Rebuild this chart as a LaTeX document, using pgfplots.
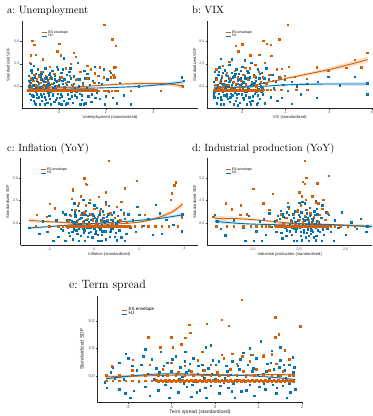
\documentclass[border=0pt]{standalone}
\usepackage{pgfplots}
\pgfplotsset{compat=1.18}
\usepackage{fontspec}
\newfontfamily\lsans{Liberation Sans}
\definecolor{esor}{RGB}{213,94,0}
\definecolor{hjbl}{RGB}{0,114,178}
\definecolor{tickgray}{RGB}{77,77,77}
\pgfplotsset{
  panel/.style={
    scale only axis,
    axis x line*=bottom, axis y line*=left,
    axis line style={line width=0.9pt, black!85},
    tick align=outside,
    major tick length=1.5pt,
    every tick/.style={black!75, line width=0.4pt},
    ytick={0,2.5,5}, yticklabels={0.0,2.5,5.0},
    ymin=-2.45, ymax=7.25,
    ticklabel style={font=\lsans\fontsize{3.6}{4}\selectfont, text=tickgray, inner sep=0.8pt},
    label style={font=\lsans\fontsize{4.1}{5}\selectfont, text=black!85},
    ylabel={Standardized SDF},
    legend style={draw=none, fill=none, anchor=north west, font=\lsans\fontsize{3.5}{4}\selectfont, row sep=-2.2pt, inner sep=0pt, nodes={inner sep=0.8pt}},
    legend image code/.code={\draw[#1, line width=0.9pt] (0pt,0pt) -- (5pt,0pt);},
    legend cell align=left,
  },
  bpts/.style={only marks, mark=square*, mark size=0.68pt, color=hjbl, mark options={draw=none, fill=hjbl, fill opacity=0.9}, forget plot},
  opts/.style={only marks, mark=square*, mark size=0.68pt, color=esor, mark options={draw=none, fill=esor, fill opacity=0.9}, forget plot},
  oline/.style={esor, line width=0.9pt, smooth, no marks, forget plot},
  bline/.style={hjbl, line width=0.9pt, smooth, no marks, forget plot},
  oband/.style={fill=esor!55!white, fill opacity=0.35, draw=none, no marks, forget plot},
  bband/.style={fill=hjbl!55!white, fill opacity=0.3, draw=none, no marks, forget plot},
}
\begin{document}
\begin{tikzpicture}
\useasboundingbox (0,0) rectangle (373pt,416pt);
% titles
\node[anchor=base west, inner sep=0pt, font=\fontsize{10.5}{12}\selectfont] at (7pt,402pt) {a:\ Unemployment};
\node[anchor=base west, inner sep=0pt, font=\fontsize{10.5}{12}\selectfont] at (192pt,402pt) {b:\ VIX};
\node[anchor=base west, inner sep=0pt, font=\fontsize{10.5}{12}\selectfont] at (7pt,264.3pt) {c:\ Inflation (YoY)};
\node[anchor=base west, inner sep=0pt, font=\fontsize{10.5}{12}\selectfont] at (192pt,264.3pt) {d:\ Industrial production (YoY)};
\node[anchor=base west, inner sep=0pt, font=\fontsize{12}{14}\selectfont] at (69pt,128pt) {e:\ Term spread};

% ---------------- a ----------------
\begin{axis}[panel, at={(22pt,307.7pt)}, anchor=south west, width=176pt, height=87.3pt,
  xmin=-1.57, xmax=5.92, xtick={0,2,4}, xticklabels={0,2,4},
  xlabel={Unemployment (standardized)},
  xlabel style={at={(axis description cs:0.5,-0.1)}, anchor=center},
  ylabel style={at={(axis description cs:-0.078,0.5)}, anchor=center},
  legend style={at={(0.11,0.9)}}]
\addlegendimage{esor, line width=0.9pt}\addlegendentry{ES envelope}
\addlegendimage{hjbl, line width=0.9pt}\addlegendentry{HJ}
\addplot[bpts] coordinates {(-1.28,1.2)(-1.25,-0.8)(-1.22,0.4)(-1.2,-1.5)(-1.18,1.8)(-1.15,-0.2)(-1.12,0.9)(-1.1,-1.1)(-1.08,2.3)(-1.05,0.1)(-1.03,-1.9)(-1.0,1.4)(-0.98,-0.6)(-0.95,0.6)(-0.93,-1.3)(-0.9,1.9)(-0.88,-0.3)(-0.85,0.3)(-0.83,-2.0)(-0.8,1.1)(-0.78,-0.9)(-0.75,0.8)(-0.72,-1.6)(-0.7,0.0)(-0.68,1.6)(-0.65,-0.5)(-0.62,0.5)(-0.6,-1.2)(-0.58,2.0)(-0.55,-0.1)(-0.52,1.0)(-0.5,-1.8)(-0.48,0.7)(-0.45,-0.7)(-0.42,1.3)(-0.4,-1.4)(-0.38,0.2)(-0.35,-2.0)(-0.32,0.9)(-0.3,-0.4)(-0.28,1.7)(-0.25,-1.0)(-0.22,0.4)(-0.2,-1.7)(-0.18,1.2)(-0.15,-0.2)(-0.12,0.6)(-0.1,-1.3)(-0.08,2.2)(-0.05,-0.8)(-0.02,0.1)(0.0,-1.9)(0.03,1.0)(0.06,-0.5)(0.1,1.5)(0.13,-1.1)(0.16,0.3)(0.2,-1.6)(0.23,0.8)(0.26,-0.3)(0.3,-2.0)(0.33,1.3)(0.37,-0.9)(0.4,0.5)(0.44,-1.4)(0.48,2.0)(0.52,-0.6)(0.56,0.2)(0.6,-1.8)(0.64,1.1)(0.68,-0.2)(0.72,0.7)(0.76,-1.2)(0.8,2.6)(0.84,0.0)(0.88,-0.8)(0.92,1.6)(0.96,-1.5)(1.0,0.4)(1.05,-2.0)(1.1,0.9)(1.15,-0.4)(1.2,1.4)(1.25,-1.1)(1.3,0.2)(1.38,-1.7)(1.45,0.6)(1.52,2.2)(1.6,-0.7)(1.68,1.2)(1.75,-1.4)(1.82,0.3)(1.9,1.9)(1.96,-2.0)(2.05,0.8)(2.12,-0.6)(2.2,1.5)(2.3,-1.3)(2.38,2.1)(2.45,-1.9)(2.6,0.4)(2.75,-1.0)(3.05,-2.0)(3.4,0.0)(5.22,1.0)(5.3,0.6)
(-1.27,0.0)(-1.24,-0.4)(-1.19,0.7)(-1.14,-1.0)(-1.09,0.2)(-1.04,1.0)(-0.99,-0.3)(-0.94,-0.9)(-0.89,0.5)(-0.84,1.3)(-0.79,-0.1)(-0.74,-1.1)(-0.69,0.6)(-0.64,-0.8)(-0.59,0.9)(-0.54,-0.3)(-0.49,0.1)(-0.44,-1.0)(-0.39,1.5)(-0.34,-0.6)(-0.29,0.3)(-0.24,-0.2)(-0.19,0.8)(-0.14,-1.5)(-0.09,0.5)(-0.04,-0.4)(0.01,0.7)(0.08,-0.9)(0.15,1.9)(0.22,-0.1)(0.35,-1.9)(0.5,0.9)(0.66,-1.0)(1.12,-1.9)(0.9,-2.0)(-0.6,-2.0)(-1.0,-2.0)(0.1,-2.0)(0.2,3.1)(-1.2,2.5)
(-1.26,0.6)(-1.16,1.5)(-1.06,-1.6)(-0.96,0.0)(-0.86,-1.2)(-0.76,1.4)(-0.66,0.2)(-0.56,-1.5)(-0.46,0.4)(-0.36,1.0)(-0.26,-0.9)(-0.16,0.0)(-0.06,1.9)(0.04,-1.3)(0.14,0.6)(0.24,-0.5)(0.34,0.2)(0.44,1.6)(0.54,-1.1)(0.64,0.3)(0.74,-0.6)(0.86,0.8)(0.98,-1.0)(1.08,1.7)(1.18,-0.2)(1.28,0.9)(1.4,-0.9)(1.55,-1.3)(1.7,0.4)(2.0,-1.1)};
\addplot[opts] coordinates {(-1.30,-0.45)(-1.25,-0.51)(-1.20,-0.45)(-1.15,-0.51)(-1.10,-0.45)(-1.05,-0.51)(-1.00,-0.45)(-0.95,-0.51)(-0.90,-0.45)(-0.85,-0.51)(-0.80,-0.45)(-0.75,-0.51)(-0.70,-0.45)(-0.65,-0.51)(-0.60,-0.45)(-0.55,-0.51)(-0.50,-0.45)(-0.45,-0.51)(-0.40,-0.45)(-0.35,-0.51)(-0.30,-0.45)(-0.25,-0.51)(-0.20,-0.45)(-0.15,-0.51)(-0.10,-0.45)(-0.05,-0.51)(0.00,-0.45)(0.05,-0.51)(0.10,-0.45)(0.15,-0.51)(0.20,-0.45)(0.25,-0.51)(0.30,-0.45)(0.35,-0.51)(0.40,-0.45)(0.45,-0.51)(0.50,-0.45)(0.55,-0.51)(0.60,-0.45)(0.65,-0.51)(0.70,-0.45)(0.75,-0.51)(0.80,-0.45)(0.85,-0.51)(0.90,-0.45)(0.95,-0.51)(1.00,-0.45)(1.05,-0.51)(1.10,-0.45)(1.15,-0.51)(1.20,-0.45)(1.25,-0.51)(1.30,-0.45)(1.35,-0.51)(1.40,-0.45)(1.45,-0.51)(1.50,-0.45)(1.55,-0.51)(1.60,-0.45)
(1.7,-0.48)(1.9,-0.48)(2.0,-0.48)(2.1,-0.48)(2.25,-0.48)(2.4,-0.48)(2.5,-0.48)(3.05,-0.48)(4.33,-0.48)
(-1.25,0.3)(-1.2,0.9)(-1.15,-0.1)(-1.1,0.6)(-1.05,1.3)(-1.0,0.1)(-0.95,0.8)(-0.9,-0.2)(-0.85,1.1)(-0.8,0.4)(-0.75,1.6)(-0.7,-0.1)(-0.65,0.7)(-0.6,0.2)(-0.55,1.2)(-0.5,0.5)(-0.45,-0.2)(-0.4,0.9)(-0.3,0.3)(-0.2,1.4)(-0.1,0.0)(0.0,0.6)(0.1,1.0)(0.2,-0.1)(0.3,0.4)(0.45,1.2)(0.6,0.1)(0.75,0.8)(0.9,1.6)(1.0,0.2)(1.2,0.9)(1.35,1.9)(1.5,0.4)(1.65,1.2)
(1.93,6.87)(-1.13,5.04)(-1.05,4.63)(0.01,4.74)(2.43,4.48)(2.27,5.23)(-1.2,3.44)(-0.99,3.51)(-0.07,3.89)(0.64,3.7)(0.08,3.44)(0.71,3.25)(-0.7,2.99)(-1.23,2.61)(1.74,2.13)(2.35,2.1)(2.4,2.15)(1.52,1.46)(2.17,1.76)(2.31,1.3)(1.91,1.0)(2.2,1.0)(2.36,1.0)(1.2,2.3)(0.5,2.5)(-0.4,2.2)(0.3,2.0)(5.22,0.08)(5.26,0.0)};
\addplot[oband] coordinates {(-1.3,0.25)(-0.5,0.01)(0.5,-0.04)(1.5,0.13)(2.5,0.35)(3.5,0.47)(4.5,0.48)(5.0,0.38)(5.3,0.28)(5.3,-0.28)(5.0,-0.08)(4.5,0.08)(3.5,0.13)(2.5,0.09)(1.5,-0.03)(0.5,-0.16)(-0.5,-0.11)(-1.3,-0.05)} --cycle;
\addplot[bband] coordinates {(-1.3,-0.18)(-0.5,-0.15)(0.5,-0.15)(1.5,-0.13)(2.5,-0.02)(3.5,0.13)(4.5,0.39)(5.3,0.72)(5.3,0.28)(4.5,0.05)(3.5,-0.13)(2.5,-0.22)(1.5,-0.27)(0.5,-0.25)(-0.5,-0.25)(-1.3,-0.42)} --cycle;
\addplot[oline] coordinates {(-1.3,0.1)(-0.5,-0.05)(0.5,-0.1)(1.5,0.05)(2.5,0.22)(3.5,0.3)(4.5,0.28)(5.0,0.15)(5.3,0.0)};
\addplot[bline] coordinates {(-1.3,-0.3)(-0.5,-0.2)(0.5,-0.2)(1.5,-0.2)(2.5,-0.12)(3.5,0.0)(4.5,0.22)(5.3,0.5)};
\end{axis}

% ---------------- b ----------------
\begin{axis}[panel, at={(207pt,307.7pt)}, anchor=south west, width=165.5pt, height=87.3pt,
  xmin=-1.63, xmax=6.02, xtick={0,2,4,6}, xticklabels={0,2,4,6},
  xlabel={VIX (standardized)},
  xlabel style={at={(axis description cs:0.5,-0.103)}, anchor=center},
  ylabel style={at={(axis description cs:-0.075,0.5)}, anchor=center},
  legend style={at={(0.11,0.9)}}]
\addlegendimage{esor, line width=0.9pt}\addlegendentry{ES envelope}
\addlegendimage{hjbl, line width=0.9pt}\addlegendentry{HJ}
\addplot[bpts] coordinates {(-1.32,0.5)(-1.3,-1.2)(-1.27,1.6)(-1.24,-0.3)(-1.21,0.9)(-1.18,-1.9)(-1.15,0.1)(-1.12,1.3)(-1.09,-0.8)(-1.06,2.1)(-1.03,-0.1)(-1.0,0.7)(-0.97,-1.5)(-0.94,1.0)(-0.91,-0.6)(-0.88,0.3)(-0.85,-2.0)(-0.82,1.8)(-0.79,-0.2)(-0.76,0.6)(-0.73,-1.1)(-0.7,1.2)(-0.67,-0.5)(-0.64,0.0)(-0.61,2.4)(-0.58,-1.7)(-0.55,0.8)(-0.52,-0.3)(-0.49,1.5)(-0.46,-1.0)(-0.43,0.4)(-0.4,-2.0)(-0.37,1.1)(-0.34,-0.7)(-0.31,0.2)(-0.28,1.9)(-0.25,-1.3)(-0.22,0.6)(-0.19,-0.4)(-0.16,1.4)(-0.13,-1.8)(-0.1,0.1)(-0.07,0.9)(-0.04,-0.9)(-0.01,2.2)(0.02,-0.2)(0.05,0.5)(0.08,-1.5)(0.11,1.2)(0.14,-0.6)(0.17,0.3)(0.2,-2.0)(0.23,1.7)(0.26,-0.1)(0.29,0.7)(0.32,-1.2)(0.35,1.0)(0.38,-0.5)(0.42,2.6)(0.46,-1.6)(0.5,0.2)(0.54,1.3)(0.58,-0.8)(0.62,0.6)(0.66,-2.0)(0.7,1.9)(0.74,-0.3)(0.78,0.9)(0.82,-1.4)(0.86,0.0)(0.9,1.5)(0.95,-0.9)(1.0,0.4)(1.05,-1.9)(1.1,2.0)(1.16,-0.4)(1.22,0.8)(1.3,-1.2)(1.38,1.3)(1.46,-0.2)(1.55,0.5)(1.62,-1.6)(1.7,1.0)(1.82,-1.3)(1.9,0.2)(1.97,0.7)(2.1,-0.5)(2.28,0.52)(2.28,-1.97)(2.51,0.0)(2.7,-0.9)(3.0,0.3)(3.43,-1.3)(3.5,0.52)(3.97,1.08)(4.5,0.1)(5.19,1.08)(5.78,0.34)(5.78,-0.9)
(-1.29,-0.6)(-1.2,0.2)(-1.13,-1.3)(-1.05,0.4)(-0.98,-0.4)(-0.9,1.5)(-0.83,-1.0)(-0.75,0.1)(-0.68,-1.4)(-0.6,0.5)(-0.53,-0.8)(-0.45,1.0)(-0.38,-0.2)(-0.3,-1.6)(-0.23,0.3)(-0.15,-0.8)(-0.08,1.7)(0.0,-0.5)(0.07,0.4)(0.15,-1.0)(0.22,0.9)(0.3,-0.3)(0.4,0.1)(0.48,-1.1)(0.56,0.4)(0.64,-0.6)(0.72,-1.8)(0.8,0.3)(0.88,-0.6)(-0.5,3.0)(0.1,2.9)(-1.0,-2.0)(0.4,-2.0)(-0.2,-2.1)(-0.99,3.07)
(-1.31,-0.9)(-1.23,0.7)(-1.16,-0.2)(-1.08,1.6)(-1.01,-1.2)(-0.93,0.3)(-0.86,-0.4)(-0.78,1.3)(-0.71,-0.8)(-0.63,0.9)(-0.56,-1.2)(-0.48,0.2)(-0.41,-0.5)(-0.33,1.4)(-0.26,-0.9)(-0.18,0.8)(-0.11,-0.3)(-0.03,0.3)(0.04,-1.3)(0.12,0.9)(0.19,-0.6)(0.27,1.5)(0.34,-1.7)(0.43,0.5)(0.52,-0.4)(0.61,1.0)(0.7,-1.0)(0.8,1.4)(0.92,-0.2)(1.02,0.9)};
\addplot[opts] coordinates {(-1.30,-0.37)(-1.25,-0.43)(-1.20,-0.37)(-1.15,-0.43)(-1.10,-0.37)(-1.05,-0.43)(-1.00,-0.37)(-0.95,-0.43)(-0.90,-0.37)(-0.85,-0.43)(-0.80,-0.37)(-0.75,-0.43)(-0.70,-0.37)(-0.65,-0.43)(-0.60,-0.37)(-0.55,-0.43)(-0.50,-0.37)(-0.45,-0.43)(-0.40,-0.37)(-0.35,-0.43)(-0.30,-0.37)(-0.25,-0.43)(-0.20,-0.37)(-0.15,-0.43)(-0.10,-0.37)(-0.05,-0.43)(0.00,-0.37)(0.05,-0.43)(0.10,-0.37)(0.15,-0.43)(0.20,-0.37)(0.25,-0.43)(0.30,-0.37)(0.35,-0.43)(0.40,-0.37)(0.45,-0.43)(0.50,-0.37)(0.55,-0.43)(0.60,-0.37)(0.65,-0.43)(0.70,-0.37)(0.75,-0.43)(0.80,-0.37)(0.85,-0.43)(0.90,-0.37)(0.95,-0.43)
(1.0,-0.4)(1.15,-0.4)(1.3,-0.4)(1.5,-0.4)(1.8,-0.4)(2.5,-0.4)(3.0,-0.4)
(-1.25,0.2)(-1.18,0.8)(-1.1,-0.1)(-1.02,0.5)(-0.95,1.2)(-0.88,0.0)(-0.8,0.6)(-0.72,1.5)(-0.65,0.2)(-0.58,0.9)(-0.5,-0.1)(-0.42,0.5)(-0.35,1.7)(-0.28,0.3)(-0.2,1.0)(-0.12,-0.1)(-0.05,0.6)(0.05,1.3)(0.15,0.2)(0.25,0.8)(0.35,2.0)(0.45,0.4)(0.55,1.1)(0.65,0.0)(0.75,1.6)(0.85,0.5)(0.95,1.0)(1.1,0.3)(1.25,1.3)(1.4,0.6)(1.6,1.9)(1.75,0.9)
(2.09,6.87)(-0.31,4.48)(0.0,4.66)(0.97,5.04)(1.12,4.74)(1.32,4.63)(1.7,5.23)(-0.18,3.88)(0.36,3.44)(0.78,3.52)(1.33,3.37)(5.78,3.72)(5.19,2.94)(1.05,2.64)(1.82,1.97)(2.16,2.19)(0.13,2.08)(3.43,2.1)(3.97,1.71)(4.8,2.08)(5.5,2.1)(1.97,1.19)(2.43,1.08)(2.97,0.82)(-0.9,2.3)(-0.6,2.7)(0.6,2.4)(-1.2,1.9)};
\addplot[oband] coordinates {(-1.3,-0.15)(-0.5,-0.1)(0,0.0)(0.5,0.16)(1,0.43)(2,0.97)(3,1.53)(4,2.09)(5,2.75)(5.8,3.31)(5.8,2.61)(5,2.15)(4,1.61)(3,1.17)(2,0.73)(1,0.27)(0.5,0.04)(0,-0.1)(-0.5,-0.2)(-1.3,-0.35)} --cycle;
\addplot[bband] coordinates {(-1.3,0.0)(0,-0.05)(1,0.06)(2,0.25)(3,0.37)(4,0.43)(5,0.45)(5.8,0.48)(5.8,0.02)(5,0.05)(4,0.07)(3,0.07)(2,0.05)(1,-0.06)(0,-0.15)(-1.3,-0.2)} --cycle;
\addplot[oline] coordinates {(-1.3,-0.25)(-0.5,-0.15)(0,-0.05)(0.5,0.1)(1,0.35)(2,0.85)(3,1.35)(4,1.85)(5,2.45)(5.8,2.96)};
\addplot[bline] coordinates {(-1.3,-0.1)(0,-0.1)(1,0.0)(2,0.15)(3,0.22)(4,0.25)(5,0.25)(5.8,0.25)};
\end{axis}

% ---------------- c ----------------
\begin{axis}[panel, at={(20.7pt,171pt)}, anchor=south west, width=177.3pt, height=87pt,
  xmin=-3.27, xmax=4.61, xtick={-2,0,2,4}, xticklabels={-2,0,2,4},
  xlabel={Inflation (standardized)},
  xlabel style={at={(axis description cs:0.5,-0.107)}, anchor=center},
  ylabel style={at={(axis description cs:-0.073,0.5)}, anchor=center},
  legend style={at={(0.11,0.9)}}]
\addlegendimage{esor, line width=0.9pt}\addlegendentry{ES envelope}
\addlegendimage{hjbl, line width=0.9pt}\addlegendentry{HJ}
\addplot[bpts] coordinates {(-1.2,0.3)(-1.15,-1.1)(-1.1,0.9)(-1.05,-0.4)(-1.0,1.5)(-0.95,-1.8)(-0.9,0.1)(-0.85,0.7)(-0.8,-0.8)(-0.75,1.9)(-0.7,-0.2)(-0.65,0.5)(-0.6,-1.4)(-0.55,1.1)(-0.5,-0.6)(-0.46,0.2)(-0.42,-2.0)(-0.38,1.4)(-0.34,-0.1)(-0.3,0.8)(-0.26,-1.1)(-0.22,2.3)(-0.18,-0.5)(-0.14,0.4)(-0.1,-1.6)(-0.06,1.0)(-0.02,-0.3)(0.02,0.6)(0.06,-0.9)(0.1,1.7)(0.14,-0.1)(0.18,-2.0)(0.22,0.9)(0.26,-0.7)(0.3,0.3)(0.34,-1.3)(0.38,1.3)(0.42,-0.4)(0.46,0.1)(0.5,-1.8)(0.55,0.7)(0.6,-0.2)(0.65,1.9)(0.7,-1.0)(0.75,0.4)(0.8,-0.6)(0.86,1.2)(0.92,-1.5)(0.98,0.0)(1.04,0.8)(1.1,-0.8)(1.18,1.5)(1.26,-0.3)(1.34,0.5)(1.42,-1.2)
(-1.18,-0.5)(-1.08,0.4)(-0.98,-1.0)(-0.88,1.2)(-0.78,0.2)(-0.68,-0.6)(-0.58,0.6)(-0.48,-1.1)(-0.4,0.9)(-0.32,-0.5)(-0.24,0.1)(-0.16,-1.0)(-0.08,0.5)(0.0,-0.6)(0.08,0.2)(0.16,-1.3)(0.24,1.2)(0.32,-0.2)(0.4,0.6)(0.48,-0.9)(0.58,0.3)(0.68,-1.5)(0.78,0.9)(0.88,-0.3)(1.0,-1.9)(-0.5,2.6)(0.0,2.0)(-0.7,-2.0)(0.3,-2.0)(-0.9,2.2)(0.5,2.4)
(-1.1,-1.4)(-1.0,0.2)(-0.92,-0.7)(-0.84,0.9)(-0.76,-1.2)(-0.68,1.4)(-0.6,-0.1)(-0.52,0.9)(-0.44,-0.8)(-0.36,0.4)(-0.28,-1.5)(-0.2,1.0)(-0.12,-0.3)(-0.04,0.8)(0.04,-1.2)(0.12,0.5)(0.2,-0.5)(0.28,1.6)(0.36,-0.9)(0.44,0.2)(0.52,-0.3)(0.62,1.0)(0.72,-0.7)(0.82,0.3)(0.94,-1.1)(1.06,0.2)(1.2,-1.6)(1.3,1.1)(-1.3,1.0)(-1.4,-0.8)
(-2.89,-0.55)(-2.44,-1.22)(-1.82,-1.96)(-2.1,-1.0)(-1.7,0.3)(-1.5,-0.6)(-1.4,1.2)(-1.6,-1.5)(-2.0,0.8)(-1.3,-2.0)(-2.3,0.2)(1.5,1.0)(1.6,-0.5)(1.7,0.3)(1.83,-1.0)(1.36,-1.96)(2.0,0.9)(2.2,-0.3)(2.4,0.5)(2.6,-1.3)(2.74,2.03)(3.0,-1.2)(3.2,0.4)(3.5,-0.2)(3.88,-0.93)(3.9,1.0)(2.9,1.1)(1.9,1.8)};
\addplot[opts] coordinates {(-1.25,-0.33)(-1.20,-0.41)(-1.15,-0.33)(-1.10,-0.41)(-1.05,-0.33)(-1.00,-0.41)(-0.95,-0.33)(-0.90,-0.41)(-0.85,-0.33)(-0.80,-0.41)(-0.75,-0.33)(-0.70,-0.41)(-0.65,-0.33)(-0.60,-0.41)(-0.55,-0.33)(-0.50,-0.41)(-0.45,-0.33)(-0.40,-0.41)(-0.35,-0.33)(-0.30,-0.41)(-0.25,-0.33)(-0.20,-0.41)(-0.15,-0.33)(-0.10,-0.41)(-0.05,-0.33)(0.00,-0.41)(0.05,-0.33)(0.10,-0.41)(0.15,-0.33)(0.20,-0.41)(0.25,-0.33)(0.30,-0.41)(0.35,-0.33)(0.40,-0.41)(0.45,-0.33)(0.50,-0.41)(0.55,-0.33)(0.60,-0.41)(0.65,-0.33)(0.70,-0.41)(0.75,-0.33)(0.80,-0.41)(0.85,-0.33)(0.90,-0.41)(0.95,-0.33)(1.00,-0.41)(1.05,-0.33)(1.10,-0.41)(1.15,-0.33)(1.20,-0.41)(1.25,-0.33)(1.30,-0.41)(1.35,-0.33)(1.40,-0.41)(1.45,-0.33)(1.50,-0.41)(1.55,-0.33)(1.60,-0.41)
(-2.6,-0.37)(-2.0,-0.37)(-1.6,-0.37)(-1.4,-0.37)(1.8,-0.37)(2.1,-0.37)(2.4,-0.37)(2.7,-0.37)(3.0,-0.37)(3.3,-0.37)(3.7,-0.37)
(-1.15,0.2)(-1.05,0.8)(-0.95,-0.1)(-0.85,1.5)(-0.75,0.4)(-0.68,2.2)(-0.6,0.9)(-0.52,0.1)(-0.45,1.2)(-0.38,2.0)(-0.3,0.5)(-0.22,-0.1)(-0.15,1.0)(-0.08,0.3)(0.0,1.6)(0.08,0.0)(0.16,0.7)(0.25,1.3)(0.33,0.2)(0.42,0.9)(0.5,2.1)(0.6,0.4)(0.7,1.1)(0.8,0.0)(0.9,0.6)(1.0,1.8)(1.15,0.3)(1.3,0.9)(1.45,0.1)
(0.65,6.92)(-0.44,5.0)(-0.38,4.4)(-0.33,4.3)(1.88,4.74)(1.36,3.89)(3.63,4.55)(3.55,4.2)(-0.97,3.8)(-0.95,3.6)(0.5,3.44)(3.45,3.33)(3.4,2.6)(-1.97,2.14)(-1.75,1.66)(-2.56,0.92)(-2.12,0.74)(2.25,0.92)(3.88,0.64)(-0.6,3.0)(-0.2,2.6)(0.2,2.9)(1.2,2.4)(-1.0,2.7)};
\addplot[oband] coordinates {(-2.9,0.51)(-2,0.28)(-1,0.06)(0,-0.05)(1,-0.04)(2,0.2)(2.5,0.48)(3,0.93)(3.5,1.55)(3.93,2.45)(3.93,1.75)(3.5,1.05)(3,0.57)(2.5,0.22)(2,0.0)(1,-0.16)(0,-0.15)(-1,-0.06)(-2,0.02)(-2.9,0.07)} --cycle;
\addplot[bband] coordinates {(-2.9,-0.37)(-2,-0.28)(-1,-0.14)(0,0.0)(1,0.16)(2,0.39)(3,0.7)(3.9,1.12)(3.9,0.68)(3,0.4)(2,0.21)(1,0.04)(0,-0.1)(-1,-0.26)(-2,-0.52)(-2.9,-0.73)} --cycle;
\addplot[oline] coordinates {(-2.9,0.29)(-2,0.15)(-1,0.0)(0,-0.1)(1,-0.1)(2,0.1)(2.5,0.35)(3,0.75)(3.5,1.3)(3.93,2.1)};
\addplot[bline] coordinates {(-2.9,-0.55)(-2,-0.4)(-1,-0.2)(0,-0.05)(1,0.1)(2,0.3)(3,0.55)(3.9,0.9)};
\end{axis}

% ---------------- d ----------------
\begin{axis}[panel, at={(207pt,171pt)}, anchor=south west, width=165.5pt, height=87pt,
  xmin=-4.94, xmax=3.94, xtick={-2.5,0,2.5}, xticklabels={-2.5,0.0,2.5},
  xlabel={Industrial production (standardized)},
  xlabel style={at={(axis description cs:0.5,-0.103)}, anchor=center},
  ylabel style={at={(axis description cs:-0.075,0.5)}, anchor=center},
  legend style={at={(0.11,0.9)}}]
\addlegendimage{esor, line width=0.9pt}\addlegendentry{ES envelope}
\addlegendimage{hjbl, line width=0.9pt}\addlegendentry{HJ}
\addplot[bpts] coordinates {(-1.3,0.2)(-1.22,-1.0)(-1.14,0.8)(-1.06,-0.4)(-0.98,1.4)(-0.9,-1.7)(-0.82,0.0)(-0.74,0.6)(-0.66,-0.8)(-0.58,1.8)(-0.5,-0.2)(-0.44,0.4)(-0.38,-1.3)(-0.32,1.0)(-0.26,-0.6)(-0.2,0.1)(-0.14,-2.0)(-0.08,1.5)(-0.02,-0.1)(0.04,0.7)(0.1,-1.0)(0.16,2.4)(0.22,-0.4)(0.28,0.3)(0.34,-1.6)(0.4,1.1)(0.46,-0.7)(0.52,0.0)(0.58,1.7)(0.64,-1.2)(0.7,0.5)(0.76,-0.3)(0.82,1.3)(0.88,-1.9)(0.94,0.2)(1.0,-0.8)(1.08,0.9)(1.16,-0.2)(1.24,2.0)(1.32,-1.3)(1.4,0.4)(1.5,-0.6)
(-0.7,-1.4)(-0.55,0.9)(-0.4,-0.5)(-0.3,0.6)(-0.18,-0.9)(-0.05,0.3)(0.05,-0.5)(0.12,1.2)(0.2,0.0)(0.26,-1.1)(0.32,0.7)(0.38,-0.2)(0.44,0.4)(0.5,-1.4)(0.56,0.8)(0.62,-0.5)(0.68,0.1)(0.74,-1.0)(0.8,0.6)(0.86,-0.1)(0.92,-1.4)(0.98,1.0)(1.04,0.1)(1.12,-1.0)(0.3,2.2)(0.0,2.3)(0.5,-2.0)(-0.3,-2.0)(0.9,2.5)(-0.9,1.0)(1.2,-2.0)(0.15,-1.9)
(-1.2,-0.3)(-1.05,0.5)(-0.95,-1.1)(-0.85,0.7)(-0.75,-0.5)(-0.65,1.2)(-0.5,-0.9)(-0.42,0.2)(-0.34,-0.3)(-0.24,1.3)(-0.12,-0.6)(-0.02,0.9)(0.08,-1.4)(0.18,0.5)(0.24,-0.8)(0.36,1.5)(0.42,-1.1)(0.48,0.6)(0.54,-0.2)(0.6,1.0)(0.66,-0.8)(0.72,0.3)(0.78,-1.6)(0.84,0.9)(0.9,-0.5)(0.96,1.6)(1.06,-0.4)(1.18,0.6)(1.28,-0.7)(1.45,1.2)
(-4.54,0.92)(-3.97,-1.37)(-2.9,-1.96)(-2.45,-1.96)(-2.0,-1.96)(-3.5,0.3)(-3.0,-0.5)(-2.7,0.8)(-2.3,-0.9)(-2.1,0.2)(-1.8,-1.3)(-1.6,1.1)(-1.5,-0.4)(-1.9,0.5)(-4.2,-0.6)(1.6,0.9)(1.7,-1.0)(1.86,-1.96)(1.9,0.3)(2.1,-0.5)(2.3,1.2)(2.5,-1.3)(2.8,0.1)(3.1,-0.6)(3.6,-1.0)(3.66,-0.37)(3.3,0.5)(-4.4,0.2)};
\addplot[opts] coordinates {(-1.30,-0.29)(-1.25,-0.37)(-1.20,-0.29)(-1.15,-0.37)(-1.10,-0.29)(-1.05,-0.37)(-1.00,-0.29)(-0.95,-0.37)(-0.90,-0.29)(-0.85,-0.37)(-0.80,-0.29)(-0.75,-0.37)(-0.70,-0.29)(-0.65,-0.37)(-0.60,-0.29)(-0.55,-0.37)(-0.50,-0.29)(-0.45,-0.37)(-0.40,-0.29)(-0.35,-0.37)(-0.30,-0.29)(-0.25,-0.37)(-0.20,-0.29)(-0.15,-0.37)(-0.10,-0.29)(-0.05,-0.37)(0.00,-0.29)(0.05,-0.37)(0.10,-0.29)(0.15,-0.37)(0.20,-0.29)(0.25,-0.37)(0.30,-0.29)(0.35,-0.37)(0.40,-0.29)(0.45,-0.37)(0.50,-0.29)(0.55,-0.37)(0.60,-0.29)(0.65,-0.37)(0.70,-0.29)(0.75,-0.37)(0.80,-0.29)(0.85,-0.37)(0.90,-0.29)(0.95,-0.37)(1.00,-0.29)(1.05,-0.37)(1.10,-0.29)(1.15,-0.37)(1.20,-0.29)(1.25,-0.37)(1.30,-0.29)(1.35,-0.37)(1.40,-0.29)(1.45,-0.37)(1.50,-0.29)(1.55,-0.37)(1.60,-0.29)
(-4.44,-0.37)(-3.9,-0.37)(-3.5,-0.37)(-3.0,-0.37)(-2.6,-0.37)(-2.3,-0.37)(-2.0,-0.37)(-1.8,-0.37)(-1.6,-0.37)(1.7,-0.37)(1.9,-0.37)(2.2,-0.37)(2.6,-0.37)(3.0,-0.37)
(-1.2,0.3)(-1.0,1.0)(-0.85,0.0)(-0.7,0.6)(-0.55,1.6)(-0.45,0.2)(-0.3,0.9)(-0.2,-0.1)(-0.1,1.3)(0.0,0.4)(0.1,2.0)(0.2,0.1)(0.3,0.8)(0.4,1.5)(0.5,0.3)(0.6,1.1)(0.7,-0.1)(0.8,0.7)(0.9,2.3)(1.0,0.2)(1.1,0.9)(1.25,1.6)(1.4,0.4)(1.55,1.1)(-0.6,2.3)(0.35,2.6)(0.7,3.0)(1.3,2.6)
(0.3,6.92)(0.39,5.07)(1.59,5.3)(0.2,4.6)(0.3,4.4)(0.98,4.44)(-2.46,3.81)(-1.42,3.3)(-1.93,2.2)(-3.94,2.2)(-3.14,2.0)(-3.6,1.55)(-3.16,0.92)(0.0,3.44)(1.03,2.2)(-4.6,0.7)(-2.8,1.0)(-1.6,1.5)(0.15,3.0)};
\addplot[oband] coordinates {(-4.5,0.8)(-3.5,0.72)(-2.5,0.51)(-1.5,0.28)(-0.5,0.05)(0.5,-0.07)(1.5,-0.14)(2.5,-0.13)(3.9,-0.15)(3.9,-0.59)(2.5,-0.37)(1.5,-0.26)(0.5,-0.17)(-0.5,-0.05)(-1.5,0.12)(-2.5,0.25)(-3.5,0.28)(-4.5,0.2)} --cycle;
\addplot[bband] coordinates {(-4.5,0.4)(-3.5,0.15)(-2.5,-0.02)(-1.5,-0.09)(-0.5,-0.05)(0.5,-0.05)(1.5,-0.09)(2.5,-0.15)(3.9,-0.22)(3.9,-0.58)(2.5,-0.35)(1.5,-0.21)(0.5,-0.15)(-0.5,-0.15)(-1.5,-0.21)(-2.5,-0.22)(-3.5,-0.15)(-4.5,-0.04)} --cycle;
\addplot[oline] coordinates {(-4.5,0.5)(-3.5,0.5)(-2.5,0.38)(-1.5,0.2)(-0.5,0.0)(0.5,-0.12)(1.5,-0.2)(2.5,-0.25)(3.9,-0.37)};
\addplot[bline] coordinates {(-4.5,0.18)(-3.5,0.0)(-2.5,-0.12)(-1.5,-0.15)(-0.5,-0.1)(0.5,-0.1)(1.5,-0.15)(2.5,-0.25)(3.9,-0.4)};
\end{axis}

% ---------------- e ----------------
\begin{axis}[panel, at={(97pt,13.3pt)}, anchor=south west, width=206pt, height=106.7pt,
  xmin=-2.71, xmax=2.02, xtick={-2,-1,0,1,2}, xticklabels={-2,-1,0,1,2},
  ticklabel style={font=\lsans\fontsize{4.3}{5}\selectfont},
  label style={font=\lsans\fontsize{5}{6}\selectfont},
  legend style={font=\lsans\fontsize{4.5}{5}\selectfont, at={(0.12,0.9)}},
  xlabel={Term spread (standardized)},
  xlabel style={at={(axis description cs:0.5,-0.09)}, anchor=center},
  ylabel style={at={(axis description cs:-0.074,0.5)}, anchor=center}]
\addlegendimage{esor, line width=0.9pt}\addlegendentry{ES envelope}
\addlegendimage{hjbl, line width=0.9pt}\addlegendentry{HJ}
\addplot[bpts, mark size=0.8pt] coordinates {(-2.53,-0.6)(-2.49,-1.07)(-2.4,0.3)(-2.3,-0.2)(-2.2,1.2)(-2.06,-1.6)(-2.05,2.0)(-2.0,1.6)(-1.95,-2.0)(-1.87,-1.35)(-1.8,0.5)(-1.75,-0.5)(-1.7,1.0)(-1.6,-1.0)(-1.55,0.2)(-1.5,-1.8)(-1.45,1.5)(-1.4,-0.3)(-1.35,0.7)(-1.3,-1.3)(-1.25,2.2)(-1.2,0.0)(-1.15,-0.8)(-1.1,1.2)(-1.05,-2.0)(-1.0,0.4)(-0.95,-0.4)(-0.9,1.8)(-0.85,-1.5)(-0.8,0.8)(-0.75,-0.1)(-0.7,1.3)(-0.68,2.2)(-0.65,-1.0)(-0.6,0.5)(-0.55,-1.9)(-0.5,1.6)(-0.45,-0.5)(-0.4,0.2)(-0.35,-1.3)(-0.3,1.0)(-0.25,-0.2)(-0.21,2.6)(-0.2,-2.0)(-0.15,0.7)(-0.1,-0.9)(-0.05,1.4)(0.0,-0.3)(0.05,0.3)(0.1,-1.6)(0.15,1.9)(0.2,-0.6)(0.25,0.9)(0.3,-1.1)(0.35,0.1)(0.4,1.3)(0.45,-2.0)(0.5,-0.4)(0.55,0.6)(0.6,-1.4)(0.65,2.1)(0.7,-0.1)(0.75,1.0)(0.8,-0.8)(0.85,0.4)(0.9,-1.8)(0.95,1.6)(1.0,-0.5)(1.05,3.12)(1.1,0.2)(1.15,-1.2)(1.2,1.1)(1.25,-0.3)(1.3,2.27)(1.35,0.6)(1.4,-1.6)(1.45,0.0)(1.5,1.4)(1.55,-0.9)(1.6,0.5)(1.65,-2.0)(1.7,1.0)(1.75,-0.4)(1.8,0.3)(1.84,-1.2)
(-1.18,0.9)(-1.02,-1.1)(-0.88,0.2)(-0.72,-0.7)(-0.58,1.1)(-0.42,-1.5)(-0.28,0.5)(-0.12,-0.4)(0.02,1.0)(0.12,-0.9)(0.28,0.4)(0.42,-0.7)(0.58,1.5)(0.72,-1.3)(0.88,0.7)(1.02,-1.0)(1.18,0.4)(1.32,-0.8)(1.48,0.8)(1.62,-0.2)(1.78,1.7)(1.72,-1.5)(-1.6,2.4)(-0.1,2.8)(0.8,2.5)(1.5,2.6)(-2.1,-0.3)(-1.9,0.9)
(-1.28,0.3)(-1.12,-0.5)(-0.98,1.5)(-0.82,-0.3)(-0.66,0.3)(-0.52,-0.8)(-0.38,0.9)(-0.22,-1.1)(-0.08,0.2)(0.08,1.3)(0.22,-0.2)(0.38,-1.4)(0.52,0.9)(0.68,-0.5)(0.82,1.9)(0.98,0.1)(1.12,-0.7)(1.28,1.2)(1.42,-1.1)(1.58,1.0)(1.7,-0.7)(1.82,0.8)(-2.2,-1.2)(-2.35,0.8)(-1.65,1.8)};
\addplot[opts, mark size=0.8pt] coordinates {(-1.35,-0.42)(-1.30,-0.48)(-1.25,-0.42)(-1.20,-0.48)(-1.15,-0.42)(-1.10,-0.48)(-1.05,-0.42)(-1.00,-0.48)(-0.95,-0.42)(-0.90,-0.48)(-0.85,-0.42)(-0.80,-0.48)(-0.75,-0.42)(-0.70,-0.48)(-0.65,-0.42)(-0.60,-0.48)(-0.55,-0.42)(-0.50,-0.48)(-0.45,-0.42)(-0.40,-0.48)(-0.35,-0.42)(-0.30,-0.48)(-0.25,-0.42)(-0.20,-0.48)(-0.15,-0.42)(-0.10,-0.48)(-0.05,-0.42)(0.00,-0.48)(0.05,-0.42)(0.10,-0.48)(0.15,-0.42)(0.20,-0.48)(0.25,-0.42)(0.30,-0.48)(0.35,-0.42)(0.40,-0.48)(0.45,-0.42)(0.50,-0.48)(0.55,-0.42)(0.60,-0.48)(0.65,-0.42)(0.70,-0.48)(0.75,-0.42)(0.80,-0.48)(0.85,-0.42)(0.90,-0.48)(0.95,-0.42)(1.00,-0.48)(1.05,-0.42)(1.10,-0.48)(1.15,-0.42)(1.20,-0.48)(1.25,-0.42)(1.30,-0.48)(1.35,-0.42)(1.40,-0.48)(1.45,-0.42)(1.50,-0.48)(1.55,-0.42)(1.60,-0.48)(1.65,-0.42)(1.70,-0.48)(1.75,-0.42)(1.80,-0.48)
(-2.5,-0.45)(-2.35,-0.45)(-2.2,-0.45)(-2.05,-0.45)(-1.9,-0.45)(-1.75,-0.45)(-1.6,-0.45)(-1.45,-0.45)
(-2.5,0.05)(-2.2,0.05)(-1.9,0.05)(-1.6,0.05)(-1.3,0.05)(-1.1,0.05)(-0.9,0.05)(-0.7,0.05)(-0.5,0.05)(-0.3,0.05)(-0.1,0.05)(0.1,0.05)(0.3,0.05)(0.5,0.05)(0.7,0.05)(0.9,0.05)(1.1,0.05)(1.3,0.05)(1.5,0.05)(1.7,0.05)(1.8,0.05)
(-1.2,0.6)(-1.0,1.2)(-0.85,0.3)(-0.7,0.9)(-0.55,0.4)(-0.4,1.4)(-0.25,0.5)(-0.1,1.0)(0.05,0.3)(0.2,1.6)(0.35,0.6)(0.5,1.1)(0.65,0.4)(0.8,1.3)(0.95,0.6)(1.1,1.8)(1.25,0.5)(1.4,1.1)(1.55,0.4)(1.7,1.5)(-1.9,0.5)(-2.37,0.85)(-1.89,1.45)(-1.5,1.0)
(0.61,6.9)(0.15,5.09)(1.38,5.3)(-0.59,4.64)(-0.19,4.73)(0.31,4.55)(1.95,4.48)(1.46,3.79)(1.38,3.5)(-0.57,3.9)(-0.69,3.45)(-1.53,3.48)(-1.0,3.48)(-0.97,2.6)(-1.26,2.6)(-0.78,2.87)(0.15,1.9)(0.4,2.0)(0.62,1.8)(0.86,1.9)(1.12,1.85)(1.3,1.95)(-0.3,2.2)(1.6,2.3)};
\addplot[oband] coordinates {(-2.5,0.06)(-2,0.05)(-1.5,0.07)(-1,0.1)(-0.5,0.1)(0,0.07)(0.5,0.1)(1,0.17)(1.5,0.2)(1.84,0.22)(1.84,-0.06)(1.5,0.0)(1,0.03)(0.5,0.0)(0,-0.03)(-0.5,0.0)(-1,0.0)(-1.5,-0.07)(-2,-0.15)(-2.5,-0.26)} --cycle;
\addplot[bband] coordinates {(-2.5,-0.07)(-2,0.08)(-1.5,0.2)(-1,0.24)(-0.5,0.2)(0,0.15)(0.5,0.1)(1,0.01)(1.5,-0.1)(1.84,-0.21)(1.84,-0.51)(1.5,-0.3)(1,-0.11)(0.5,0.0)(0,0.05)(-0.5,0.1)(-1,0.12)(-1.5,0.04)(-2,-0.18)(-2.5,-0.47)} --cycle;
\addplot[oline] coordinates {(-2.5,-0.1)(-2,-0.05)(-1.5,0.0)(-1,0.05)(-0.5,0.05)(0,0.02)(0.5,0.05)(1,0.1)(1.5,0.1)(1.84,0.08)};
\addplot[bline] coordinates {(-2.5,-0.27)(-2,-0.05)(-1.5,0.12)(-1,0.18)(-0.5,0.15)(0,0.1)(0.5,0.05)(1,-0.05)(1.5,-0.2)(1.84,-0.36)};
\end{axis}
\end{tikzpicture}
\end{document}
